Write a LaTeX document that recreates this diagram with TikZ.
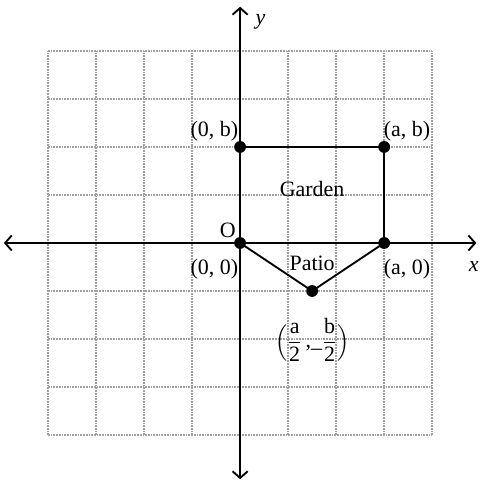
\documentclass[tikz,border=0pt]{standalone}
\usepackage{amsmath}
\usepackage{fontspec}
\setmainfont{Liberation Serif}
\usetikzlibrary{arrows.meta}
\definecolor{primary}{RGB}{0, 0, 0}
\definecolor{gridgray}{RGB}{160, 160, 160}

\begin{document}
\begin{tikzpicture}[font=\fontsize{13}{15}\selectfont,
  dot/.style={circle,fill=primary,inner sep=0pt,minimum size=7pt},
  axis/.style={primary,line width=1.1pt,{Straight Barb[length=4pt,width=9pt]}-{Straight Barb[length=4pt,width=9pt]}},
  edge/.style={primary,line width=1.1pt}]
\useasboundingbox (-5,-5.04) rectangle (5.04,5.06);
\draw[gridgray,line width=1pt,dash pattern=on 1pt off 0.6pt] (-4,-4) grid (4,4);
% axes
\coordinate (xl) at (-4.92,0);
\coordinate (xr) at (4.92,0);
\coordinate (yb) at (0,-4.92);
\coordinate (yt) at (0,4.92);
\draw[axis] (xl) -- (xr);
\draw[axis] (yb) -- (yt);
\node[below right,inner sep=1pt] at (4.72,-0.35) {\textit{x}};
\node[right] at (0.2,4.6) {\textit{y}};
% garden and patio
\coordinate (O) at (0,0);
\coordinate (C) at (0,2);
\coordinate (B) at (3,2);
\coordinate (A) at (3,0);
\coordinate (P) at (1.5,-1);
\draw[edge] (O) -- (C) -- (B) -- (A) -- (O);
\draw[edge] (O) -- (P) -- (A);
\foreach \p in {O,C,B,A,P} \node[dot] at (\p) {};
\node at (1.5,1.12) {Garden};
\node at (1.5,-0.42) {Patio};
\node[above left,inner sep=1pt] at (0.0,2.07) {(0, b)};
\node[above right,inner sep=1pt] at (2.95,2.07) {(a, b)};
\node[above left,inner sep=1pt] at (-0.05,0.07) {O};
\node[below left,inner sep=1pt] at (0.0,-0.3) {(0, 0)};
\node[below right,inner sep=1pt] at (2.95,-0.3) {(a, 0)};
\node[below] at (1.5,-1.45) {$\Bigl(\dfrac{\text{a}}{\text{2}}\,\text{,}\text{\_}\dfrac{\text{b}}{\text{2}}\Bigr)$};
\end{tikzpicture}
\end{document}
